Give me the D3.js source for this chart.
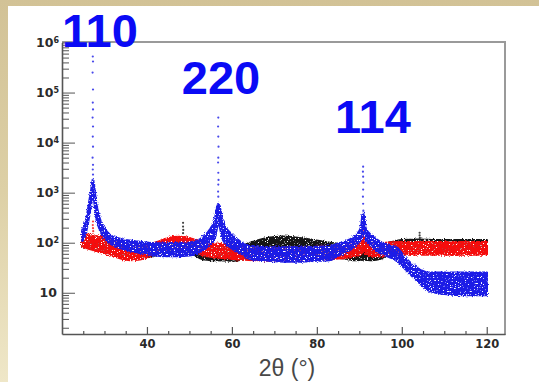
<!DOCTYPE html>
<html>
<head>
<meta charset="utf-8">
<script src="https://cdn.jsdelivr.net/npm/d3@7"></script>
<style>
  body { margin: 0; background: #fff; }
  svg { display: block; }
</style>
</head>
<body>
<svg id="chart" width="539" height="382"></svg>
<script>
// X-ray diffraction scans: intensity (counts, log scale) versus 2θ.
// Each scan is a dense cloud of points; it is stored as the lower and
// upper edge of that cloud, plus the sparse points on the sharp reflections.

// --- blue scan ---
const blueTheta = [24.8, 25.5, 26, 26.5, 26.9, 27.3, 27.7, 28.1, 28.6, 29.3, 30, 31, 32, 33.5, 35, 38, 41, 44, 47, 50, 52, 53.5, 54.8, 56, 56.8, 57.9, 59.5, 61.9, 64.2, 67, 70, 75, 80, 83, 85, 87.8, 89.5, 90.4, 90.9, 91.5, 93, 94.8, 97, 98.8, 100.8, 102.6, 104.5, 106.5, 110, 115, 120];
const blueLo    = [110, 150, 230, 400, 650, 1000, 600, 330, 220, 155, 125, 102, 90, 80, 73, 64, 58, 54, 54, 56, 62, 75, 95, 130, 250, 115, 83, 63, 48, 45, 43, 42, 44, 45, 55, 72, 95, 120, 160, 115, 85, 63, 52, 45, 30, 21, 15, 11, 9.5, 9, 9];
const blueHi    = [180, 240, 380, 700, 1100, 1800, 1000, 560, 360, 240, 190, 150, 130, 120, 112, 104, 98, 96, 98, 100, 110, 135, 180, 290, 600, 250, 160, 105, 85, 82, 80, 80, 82, 85, 95, 115, 150, 200, 400, 190, 135, 105, 90, 80, 50, 36, 28, 25, 25, 25, 25];
const bluePeakTheta  = [27.25, 27.3, 27.2, 27.3, 27.25, 27.3, 27.2, 27.3, 27.25, 27.3, 27.2, 27.3, 27.25, 27.3, 27.2,
                        56.8, 56.75, 56.8, 56.85, 56.8, 56.75, 56.8, 56.85, 56.8, 56.75, 56.8, 56.85, 56.8,
                        90.9, 90.85, 90.9, 90.95, 90.9, 90.85, 90.9, 90.95, 90.9, 90.85];
const bluePeakCounts = [525000, 417000, 251000, 115000, 63000, 46000, 31600, 21000, 13200, 8300, 5000, 3600, 2900, 2300, 1800,
                        31600, 21000, 13200, 8300, 5000, 4000, 2500, 1800, 1450, 1050, 830, 580, 420,
                        3300, 2630, 2090, 1580, 1150, 830, 600, 440, 316, 230];

// --- red scan ---
const redTheta = [24.8, 26, 28, 30, 32, 34, 36, 38, 40, 42, 44, 46, 48, 50, 52, 54, 56, 58, 60, 63, 66, 70, 75, 80, 84, 87.8, 89.5, 90.4, 90.9, 91.5, 93, 95, 97, 100, 105, 110, 115, 120];
const redLo    = [85, 78, 70, 62, 55, 48, 45, 46, 52, 60, 68, 76, 76, 70, 62, 55, 52, 50, 48, 46, 45, 44, 44, 46, 48, 52, 55, 60, 68, 60, 54, 54, 57, 58, 58, 58, 58, 58];
const redHi    = [150, 145, 135, 125, 112, 88, 84, 86, 92, 100, 115, 128, 130, 122, 110, 100, 96, 92, 88, 84, 80, 78, 78, 82, 86, 100, 110, 120, 140, 115, 100, 98, 100, 102, 102, 102, 102, 102];
const redPeakTheta  = [27.3, 27.25, 27.3, 27.35, 90.9, 90.9];
const redPeakCounts = [265, 225, 195, 170, 180, 160];

// --- black scan ---
const blackTheta = [24.8, 28, 32, 36, 40, 44, 48, 50, 53, 56, 60, 63, 66, 69, 72, 75, 78, 81, 84, 87, 89, 91, 93, 95, 97, 100, 104, 108, 112, 116, 120];
const blackLo    = [85, 72, 60, 50, 52, 62, 70, 66, 48, 45, 44, 48, 58, 68, 74, 70, 64, 57, 52, 48, 45, 46, 45, 48, 60, 70, 72, 70, 70, 70, 70];
const blackHi    = [140, 125, 108, 86, 90, 108, 122, 115, 95, 85, 80, 90, 110, 125, 132, 126, 116, 106, 96, 88, 80, 90, 82, 88, 100, 112, 115, 112, 112, 112, 112];
const blackPeakTheta  = [48.5, 48.5, 48.55, 48.5, 104.2, 104.2, 104.25];
const blackPeakCounts = [250, 210, 180, 155, 158, 140, 125];

// --- axes ---
const xMajorTicks = [40, 60, 80, 100, 120];
const xMinorTicks = [25, 30, 35, 45, 50, 55, 65, 70, 75, 85, 90, 95, 105, 110, 115];
const yMajorTicks = [10, 100, 1e3, 1e4, 1e5, 1e6];
const yTickBase   = ["10", "10", "10", "10", "10", "10"];
const yTickExp    = ["", "2", "3", "4", "5", "6"];
const xTitle = "2θ (°)";

// --- reflection labels ---
const peakLabels = ["110", "220", "114"];

const svg = d3.select("#chart");
const defs = svg.append("defs");

// parchment surround with a white card on top
const grad = defs.append("linearGradient").attr("id", "parch")
  .attr("x1", 0).attr("y1", 0).attr("x2", 0).attr("y2", 1);
grad.append("stop").attr("offset", "0%").attr("stop-color", "#d2c296");
grad.append("stop").attr("offset", "50%").attr("stop-color", "#ddd0a6");
grad.append("stop").attr("offset", "100%").attr("stop-color", "#efe7c8");
svg.append("rect").attr("width", 539).attr("height", 382).attr("fill", "url(#parch)");
svg.append("rect").attr("x", 8).attr("y", 6).attr("width", 531).attr("height", 376).attr("fill", "#ffffff");

// ragged, lightly speckled edges for the point clouds
const rough = defs.append("filter").attr("id", "rough")
  .attr("x", "-5%").attr("y", "-20%").attr("width", "110%").attr("height", "140%");
rough.append("feTurbulence").attr("type", "fractalNoise").attr("baseFrequency", 0.9)
  .attr("numOctaves", 1).attr("seed", 3).attr("result", "n");
rough.append("feDisplacementMap").attr("in", "SourceGraphic").attr("in2", "n")
  .attr("scale", 4).attr("xChannelSelector", "R").attr("yChannelSelector", "G")
  .attr("result", "d");
rough.append("feTurbulence").attr("type", "fractalNoise").attr("baseFrequency", 0.7)
  .attr("numOctaves", 2).attr("seed", 11).attr("result", "s");
rough.append("feColorMatrix").attr("in", "s").attr("type", "matrix")
  .attr("values", "0 0 0 0 0  0 0 0 0 0  0 0 0 0 0  10 0 0 0 -2.7").attr("result", "m");
rough.append("feComposite").attr("in", "d").attr("in2", "m").attr("operator", "in");

const x = d3.scaleLinear().domain([20, 124.3]).range([62, 505]);
const y = d3.scaleLog().domain([1.5, 1e6]).range([334, 42.5]);

const band = d3.area()
  .x(d => x(d.t)).y0(d => y(d.lo)).y1(d => y(d.hi))
  .curve(d3.curveMonotoneX);

function zipBand(t, lo, hi) { return t.map((v, i) => ({ t: v, lo: lo[i], hi: hi[i] })); }

const series = [
  { color: "#141414", t: blackTheta, lo: blackLo, hi: blackHi, pt: blackPeakTheta, pc: blackPeakCounts },
  { color: "#f51010", t: redTheta,   lo: redLo,   hi: redHi,   pt: redPeakTheta,   pc: redPeakCounts },
  { color: "#1c1ce6", t: blueTheta,  lo: blueLo,  hi: blueHi,  pt: bluePeakTheta,  pc: bluePeakCounts }
];

const plot = svg.append("g");
series.forEach(s => {
  plot.append("path")
    .datum(zipBand(s.t, s.lo, s.hi))
    .attr("d", band)
    .attr("fill", s.color)
    .attr("stroke", s.color)
    .attr("stroke-width", 2.5)
    .attr("stroke-linejoin", "round")
    .attr("filter", "url(#rough)");
  plot.append("g").selectAll("circle")
    .data(s.pt.map((v, i) => ({ t: v, c: s.pc[i] })))
    .join("circle")
    .attr("cx", d => x(d.t)).attr("cy", d => y(d.c))
    .attr("r", 1.1).attr("fill", s.color).attr("opacity", 0.8);
});

// frame: top and right edges
svg.append("line").attr("x1", 62).attr("x2", 506).attr("y1", 42).attr("y2", 42)
  .attr("stroke", "#9a9a9a").attr("stroke-width", 2);
svg.append("line").attr("x1", 505).attr("x2", 505).attr("y1", 41).attr("y2", 335)
  .attr("stroke", "#9a9a9a").attr("stroke-width", 2);

const axisColor = "#555";
const tickFont = "'DejaVu Sans', Verdana, sans-serif";

// x axis: inward ticks
const gx = svg.append("g").attr("transform", "translate(0,334)");
gx.call(d3.axisBottom(x).tickValues(xMajorTicks).tickSize(-7).tickSizeOuter(0)
  .tickPadding(6).tickFormat(d3.format("d")));
const gxm = svg.append("g").attr("transform", "translate(0,334)");
gxm.call(d3.axisBottom(x).tickValues(xMinorTicks).tickSize(-3).tickFormat(""));
gxm.select(".domain").remove();
[gx, gxm].forEach(g => {
  g.selectAll("path,line").attr("stroke", axisColor).attr("stroke-width", 1.2);
});
gx.select(".domain").attr("stroke-width", 1.6);
gx.selectAll("text").attr("font-family", tickFont).attr("font-weight", "bold")
  .attr("font-size", 11.5).attr("fill", "#2a2a2a");

// y axis: inward ticks, decade labels with superscript exponents
const gy = svg.append("g").attr("transform", "translate(62,0)");
gy.call(d3.axisLeft(y).tickValues(yMajorTicks).tickSize(-13).tickSizeOuter(0).tickFormat(""));
const yMinorTicks = [];
for (let e = 0; e < 6; e++) for (let m = 2; m <= 9; m++) yMinorTicks.push(m * Math.pow(10, e));
const gym = svg.append("g").attr("transform", "translate(62,0)");
gym.call(d3.axisLeft(y).tickValues(yMinorTicks).tickSize(-7).tickFormat(""));
gym.select(".domain").remove();
[gy, gym].forEach(g => {
  g.selectAll("path,line").attr("stroke", axisColor).attr("stroke-width", 1);
});
gy.select(".domain").attr("stroke-width", 1.6);

yMajorTicks.forEach((v, i) => {
  const t = svg.append("text")
    .attr("x", yTickExp[i] ? 59 : 57).attr("y", y(v)).attr("dy", "0.36em")
    .attr("text-anchor", "end")
    .attr("font-family", tickFont).attr("font-weight", "bold")
    .attr("font-size", 12.5).attr("fill", "#2a2a2a");
  t.append("tspan").text(yTickBase[i]);
  if (yTickExp[i]) {
    t.append("tspan").attr("dy", "-0.5em").attr("font-size", 8).text(yTickExp[i]);
  }
});

// axis title
svg.append("text").attr("x", 287).attr("y", 376).attr("text-anchor", "middle")
  .attr("font-family", "'Liberation Sans', Arial, sans-serif")
  .attr("font-size", 23).attr("fill", "#484848").text(xTitle);

// reflection indices
const labelPos = [[100, 47], [221, 94], [373, 133]];
peakLabels.forEach((lab, i) => {
  svg.append("text").attr("x", labelPos[i][0]).attr("y", labelPos[i][1])
    .attr("text-anchor", "middle")
    .attr("font-family", "'Liberation Sans', Arial, sans-serif")
    .attr("font-weight", "bold").attr("font-size", 47)
    .attr("fill", "#0a0af5").text(lab);
});
</script>
</body>
</html>
